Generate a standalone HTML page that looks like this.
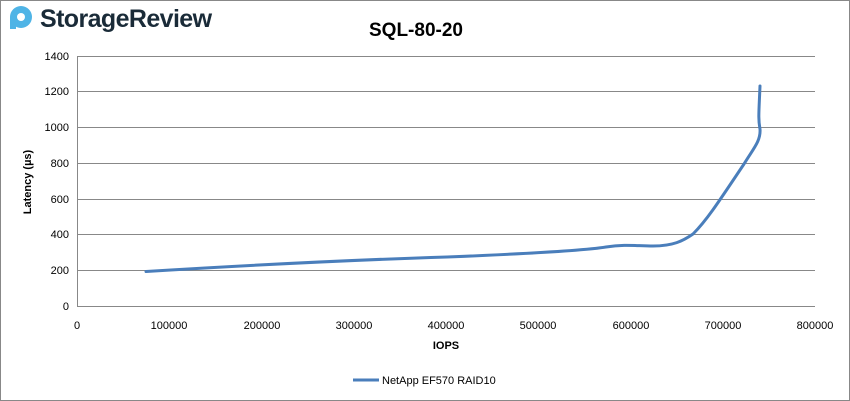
<!DOCTYPE html>
<html><head><style>
body{margin:0;background:#fff;}
.wrap{position:relative;width:848px;height:399px;border:1px solid #888;overflow:hidden;font-family:"Liberation Sans",sans-serif;}
</style></head><body><div class="wrap">
<svg width="848" height="399" viewBox="0 0 848 399" xmlns="http://www.w3.org/2000/svg" font-family="Liberation Sans, sans-serif">
<circle cx="20" cy="16" r="11" fill="#4fb4e6"/>
<circle cx="20" cy="16" r="4" fill="#fff"/>
<rect x="9" y="16" width="6" height="12" fill="#4fb4e6"/>
<text x="39" y="26" font-size="25" fill="#1a2b38" font-weight="bold" letter-spacing="-0.6">StorageReview</text>
<text x="415" y="35" font-size="19" font-weight="bold" text-anchor="middle" fill="#000">SQL-80-20</text>
<g stroke="#888" stroke-width="1">
<line x1="76" y1="305.5" x2="814" y2="305.5"/>
<line x1="76" y1="269.5" x2="814" y2="269.5"/>
<line x1="76" y1="233.5" x2="814" y2="233.5"/>
<line x1="76" y1="198.5" x2="814" y2="198.5"/>
<line x1="76" y1="162.5" x2="814" y2="162.5"/>
<line x1="76" y1="126.5" x2="814" y2="126.5"/>
<line x1="76" y1="90.5" x2="814" y2="90.5"/>
<line x1="76" y1="55.5" x2="814" y2="55.5"/>
<line x1="76.5" y1="55" x2="76.5" y2="305"/>
</g>
<g font-size="11" fill="#000" text-anchor="end">
<text x="68" y="309">0</text><text x="68" y="273">200</text><text x="68" y="237">400</text><text x="68" y="202">600</text><text x="68" y="166">800</text><text x="68" y="130">1000</text><text x="68" y="94">1200</text><text x="68" y="59">1400</text>
</g>
<g font-size="11" fill="#000" text-anchor="middle">
<text x="76" y="328">0</text><text x="168" y="328">100000</text><text x="261" y="328">200000</text><text x="353" y="328">300000</text><text x="445" y="328">400000</text><text x="537" y="328">500000</text><text x="630" y="328">600000</text><text x="722" y="328">700000</text><text x="814" y="328">800000</text>
</g>
<text x="445" y="348" font-size="11" font-weight="bold" text-anchor="middle">IOPS</text>
<text transform="translate(30,181) rotate(-90)" font-size="11" font-weight="bold" text-anchor="middle">Latency (µs)</text>
<path d="M145,270.5 C250,264 350,259 446,256 C520,253 580,250 605,246 C625,243 635,245 652,245 C672,245 682,240 692,233 C705,220 715,205 743,163 C752,148 760,140 759,128 C757,118 758,110 759,85" fill="none" stroke="#4a7ebb" stroke-width="3" stroke-linecap="round" stroke-linejoin="round"/>
<line x1="352" y1="379" x2="378" y2="379" stroke="#4a7ebb" stroke-width="3"/>
<text x="381" y="383" font-size="11">NetApp EF570 RAID10</text>
</svg></div></body></html>
